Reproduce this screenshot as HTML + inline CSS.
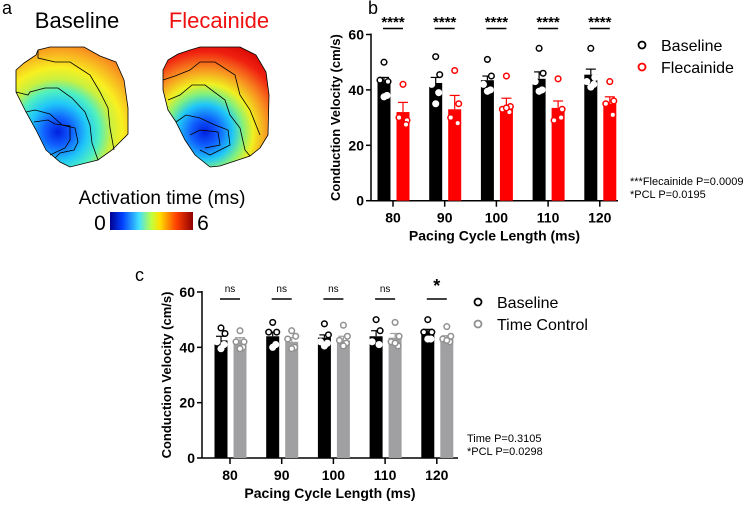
<!DOCTYPE html>
<html><head><meta charset="utf-8"><style>
body{margin:0;background:#fff;width:750px;height:503px;overflow:hidden;font-family:"Liberation Sans",Arial,sans-serif}
svg text{font-family:"Liberation Sans",Arial,sans-serif}
</style></head><body>
<svg id="fig" width="750" height="503" viewBox="0 0 750 503" xmlns="http://www.w3.org/2000/svg">
<defs>
<radialGradient id="hm1" gradientUnits="userSpaceOnUse" cx="58" cy="132" r="115">
<stop offset="0" stop-color="#0020e0"/><stop offset="0.12" stop-color="#1060ff"/><stop offset="0.25" stop-color="#20c8f8"/><stop offset="0.36" stop-color="#50f0c0"/><stop offset="0.46" stop-color="#c8f040"/><stop offset="0.56" stop-color="#f8f020"/><stop offset="0.75" stop-color="#f89020"/><stop offset="1" stop-color="#e82810"/></radialGradient>
<radialGradient id="hm2" gradientUnits="userSpaceOnUse" cx="205" cy="132" r="115">
<stop offset="0" stop-color="#0020e0"/><stop offset="0.12" stop-color="#1060ff"/><stop offset="0.24" stop-color="#20c8f8"/><stop offset="0.33" stop-color="#80f080"/><stop offset="0.42" stop-color="#f0f020"/><stop offset="0.55" stop-color="#f89020"/><stop offset="0.7" stop-color="#f02010"/><stop offset="0.85" stop-color="#d00000"/><stop offset="1" stop-color="#a00000"/></radialGradient>
<linearGradient id="cbar" x1="0" x2="1" y1="0" y2="0">
<stop offset="0" stop-color="#00008f"/><stop offset="0.15" stop-color="#0040ff"/><stop offset="0.35" stop-color="#40e0ff"/><stop offset="0.5" stop-color="#c0ff40"/><stop offset="0.6" stop-color="#ffe000"/><stop offset="0.8" stop-color="#ff4000"/><stop offset="1" stop-color="#900000"/></linearGradient>
</defs>
<g>
<text x="2" y="14" font-size="18">a</text>
<text x="77" y="28" font-size="22" text-anchor="middle">Baseline</text>
<text x="219" y="28" font-size="22" text-anchor="middle" fill="#f01010">Flecainide</text>
<path fill="url(#hm1)" stroke="#000" stroke-width="0.8" d="M16,70 L24,63 L36,55 L38,50 L50,47 L84,47 L100,56 L116,62 L124,80 L128,108 L128,134 L112,150 L98,160 L70,167 L60,162 L46,150 L36,130 L26,112 L16,92 Z"/>
<path fill="none" stroke="#000" stroke-width="0.8" d="M38,50 L38,58 L55,62 L70,62 L90,75 L100,92 L108,108 L110,128 L114,150 M16,92 L28,95 L30,92 L45,88 L58,88 L72,98 L85,112 L90,125 L92,143 L98,160 M26,112 L35,110 L50,114 L62,125 L75,128 L78,142 L74,150 L60,153 L55,158 M50,155 L65,148 L70,140 L70,126 L55,124 L48,120 L34,122"/>
<path fill="url(#hm2)" stroke="#000" stroke-width="0.8" d="M163,70 L168,60 L178,54 L190,50 L200,47 L240,47 L256,55 L266,72 L269,95 L268,135 L260,148 L250,156 L220,166 L210,167 L195,155 L185,140 L176,122 L168,110 L163,90 Z"/>
<path fill="none" stroke="#000" stroke-width="0.8" d="M163,80 L175,76 L190,70 L200,62 L215,62 L235,75 L240,95 L250,110 L260,135 M168,100 L180,95 L192,85 L205,85 L225,100 L230,115 L240,128 L245,150 L250,156 M176,122 L186,115 L200,118 L215,125 L228,130 L230,145 L210,155 L200,150 M190,135 L200,130 L218,132 L220,145 L205,148"/>
<text x="162" y="204" font-size="19" text-anchor="middle">Activation time (ms)</text>
<rect x="110" y="212" width="83" height="18" fill="url(#cbar)"/>
<text x="100" y="230" font-size="21" text-anchor="middle">0</text>
<text x="203" y="230" font-size="21" text-anchor="middle">6</text>
</g>
<g id="chartB"></g>
<g id="chartC"></g>
</svg>
<script>
const categories = ["80","90","100","110","120"];
const yTicksB = [0,20,40,60];
const bBaselineMean = [43,42.5,43.5,44,45.5];
const bBaselineErr = [1.5,2,1.5,2.5,2];
const bFlecMean = [32,33,34,33.5,35];
const bFlecErr = [3.5,5,3,2.5,2.5];
const bBaselinePts = [[50,43,43.5,38,37.5],[52,45.5,42,39,35],[51,45,42,40,39.5],[55,46,43,40,39.5],[55,44.5,43,42,41]];
const bFlecPts = [[42,29,30,27.5],[47,35,30,28],[45,34,33,32,33.5],[44,33,29,30],[43,36,35,31]];
const bSig = ["****","****","****","****","****"];
const cBaselineMean = [42.5,44,43.5,44,45.5];
const cBaselineErr = [1.5,1.5,1,2,1];
const cCtrlMean = [42,42,42.5,43.5,43];
const cCtrlErr = [1.5,1.5,1.5,1.5,1.2];
const cBaselinePts = [[47,45,42,41,39.5],[49,45.5,45.5,41,40],[48.5,44.5,42,41.5,40.5],[50,46,42,41],[50,45.5,45.5,43,43]];
const cCtrlPts = [[46,42,42,40,39.5],[46,44,43,40,39.5],[48,44,42.5,41.5,40.5],[49,44,42,40.5,41.5],[47.5,44,43,42,42.5]];
const cSig = ["ns","ns","ns","ns","*"];

const NS="http://www.w3.org/2000/svg";
function mk(parent,tag,attrs,text){const e=document.createElementNS(NS,tag);for(const k in attrs)e.setAttribute(k,attrs[k]);if(text!==undefined)e.textContent=text;parent.appendChild(e);return e;}

function drawChart(g,cfg){
  const y=v=>cfg.y0-(v/60)*(cfg.y0-cfg.y60);
  const x=i=>cfg.x80+i*51.7;
  let ax=mk(g,'line',{x1:cfg.axX,x2:cfg.axX,y1:y(60)-1,y2:cfg.y0,stroke:'#000','stroke-width':1.5});
  
  
  let bx=mk(g,'line',{x1:cfg.axX,x2:cfg.axEnd,y1:cfg.y0,y2:cfg.y0,stroke:'#000','stroke-width':1.5});
  
  
  yTicksB.forEach(t=>{
    mk(g,'line',{x1:cfg.axX-5,x2:cfg.axX,y1:y(t),y2:y(t),stroke:'#000','stroke-width':1.5});
    let tl=mk(g,'text',{x:cfg.axX-7,y:y(t)+5,'font-size':14,'font-weight':'bold','text-anchor':'end'},String(t));
    
    
  });
  let yt=mk(g,'text',{x:0,y:0,'font-size':13,'font-weight':'bold','text-anchor':'middle',transform:`translate(${cfg.axX-31},${(y(60)+cfg.y0)/2}) rotate(-90)`},'Conduction Velocity (cm/s)');
  
  
  let xt=mk(g,'text',{x:(cfg.axX+cfg.axEnd)/2,y:cfg.y0+40,'font-size':14,'font-weight':'bold','text-anchor':'middle'},'Pacing Cycle Length (ms)');
  
  
  categories.forEach((c,i)=>{
    mk(g,'line',{x1:x(i),x2:x(i),y1:cfg.y0,y2:cfg.y0+6,stroke:'#000','stroke-width':1.5});
    let l=mk(g,'text',{x:x(i),y:cfg.y0+22,'font-size':14,'font-weight':'bold','text-anchor':'middle'},c);
    
    
    [[cfg.m1,cfg.e1,cfg.p1,-9,cfg.c1,'#000'],[cfg.m2,cfg.e2,cfg.p2,10,cfg.c2,cfg.ptc2]].forEach((s,k)=>{
      const cx=x(i)+s[3];
      const top=y(s[0][i]);
      mk(g,'line',{x1:cx,x2:cx,y1:y(s[0][i]+s[1][i]),y2:top,stroke:s[4],'stroke-width':1.2});
      mk(g,'line',{x1:cx-5,x2:cx+5,y1:y(s[0][i]+s[1][i]),y2:y(s[0][i]+s[1][i]),stroke:s[4],'stroke-width':1.2});
      let r=mk(g,'rect',{x:cx-6.5,y:top,width:13,height:cfg.y0-top,fill:s[4]});
      
      
      s[2][i].forEach((v,j)=>{
        const px=cx+[-3,4,-4,3,0][j%5]*(j<1?0:1);
        let p=mk(g,'circle',{cx:px,cy:y(v),r:2.8,fill:k?cfg.fill2:'#fff',stroke:k?cfg.ptc2:(y(v)>top?'#fff':'#000'),'stroke-width':1.5});
        
        
      });
    });
    const sig=cfg.sig[i];
    let st=mk(g,'text',{x:x(i),y:cfg.sigY,'font-size':sig==='ns'?10:(sig==='*'?18:15),'font-weight':sig==='ns'?'normal':'bold','text-anchor':'middle'},sig);
    
    
    mk(g,'line',{x1:x(i)-10,x2:x(i)+10,y1:cfg.sigLine,y2:cfg.sigLine,stroke:'#000','stroke-width':1.5});
  });
  [[cfg.n1Label,'#000','#fff'],[cfg.n2Label,cfg.ptc2,'#fff']].forEach((l,k)=>{
    let lc=mk(g,'circle',{cx:cfg.legX,cy:cfg.legY+k*22,r:3.5,fill:'#fff',stroke:l[1],'stroke-width':1.8});
    
    
    let lt=mk(g,'text',{x:cfg.legX+19,y:cfg.legY+k*22+6,'font-size':16},l[0]);
    
    
  });
  cfg.notes.forEach((n,k)=>{
    let t=mk(g,'text',{x:cfg.noteX,y:cfg.noteY+k*13,'font-size':11},n);
    
    
  });
  let pl=mk(g,'text',{x:cfg.plX,y:cfg.plY,'font-size':18},cfg.label);
  
  
}
drawChart(document.getElementById('chartB'),{y0:200.7,y60:34.5,x80:393,axX:371,axEnd:618,
  m1:bBaselineMean,e1:bBaselineErr,p1:bBaselinePts,m2:bFlecMean,e2:bFlecErr,p2:bFlecPts,
  c1:'#000',c2:'#ff0000',ptc2:'#ff0000',fill2:'#fff',n1:'baseline',n2:'flecainide',n1Label:'Baseline',n2Label:'Flecainide',
  sig:bSig,sigY:27,sigLine:28.5,legX:642,legY:45,noteX:630,noteY:185,
  notes:['***Flecainide P=0.0009','*PCL P=0.0195'],plX:368,plY:14,label:'b'});
drawChart(document.getElementById('chartC'),{y0:458,y60:292,x80:230,axX:202,axEnd:458,
  m1:cBaselineMean,e1:cBaselineErr,p1:cBaselinePts,m2:cCtrlMean,e2:cCtrlErr,p2:cCtrlPts,
  c1:'#000',c2:'#a0a0a2',ptc2:'#909090',fill2:'#fff',n1:'baseline',n2:'time-control',n1Label:'Baseline',n2Label:'Time Control',
  sig:cSig,sigY:292,sigLine:299,legX:478,legY:302,noteX:467,noteY:442,
  notes:['Time P=0.3105','*PCL P=0.0298'],plX:135,plY:281,label:'c'});
</script>
</body></html>
